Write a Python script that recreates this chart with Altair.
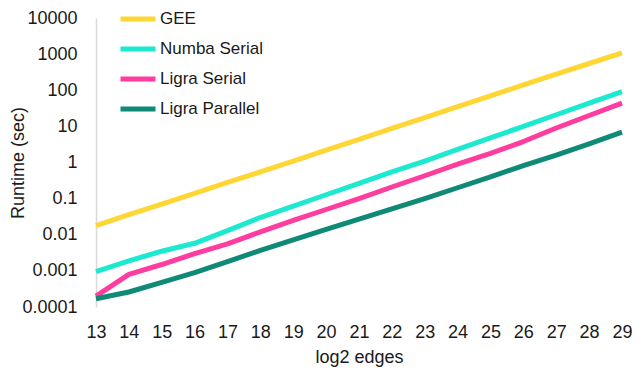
import altair as alt
import pandas as pd

edges = list(range(13, 30))
gee = [0.018, 0.036, 0.07, 0.14, 0.28, 0.55, 1.1, 2.2, 4.4, 8.8, 17.5, 35, 70, 140, 280, 550, 1080]
numba_serial = [0.00095, 0.0019, 0.0035, 0.0058, 0.013, 0.03, 0.062, 0.128, 0.265, 0.55, 1.1, 2.3, 4.8, 10, 21, 44, 91]
ligra_serial = [0.0002, 0.0008, 0.0015, 0.003, 0.0056, 0.012, 0.025, 0.05, 0.1, 0.21, 0.43, 0.9, 1.8, 3.8, 9, 20, 44]
ligra_parallel = [0.00017, 0.00026, 0.00048, 0.00089, 0.0018, 0.0037, 0.0072, 0.014, 0.027, 0.052, 0.1, 0.2, 0.4, 0.82, 1.6, 3.3, 6.9]

series_names = ["GEE", "Numba Serial", "Ligra Serial", "Ligra Parallel"]
series_colors = ["#FFD633", "#1DE9D0", "#FF3D9E", "#0E8A76"]
y_ticks = [0.0001, 0.001, 0.01, 0.1, 1, 10, 100, 1000, 10000]

rows = []
for name, vals in zip(series_names, [gee, numba_serial, ligra_serial, ligra_parallel]):
    for e, v in zip(edges, vals):
        rows.append({"edges": e, "runtime": v, "series": name})
df = pd.DataFrame(rows)

FONT = "Liberation Sans"
TXT = "#1a1a1a"

chart = alt.Chart(df).mark_line(strokeWidth=5, strokeJoin="round").encode(
    x=alt.X("edges:Q", title="log2 edges",
            scale=alt.Scale(domain=[13, 29], nice=False, zero=False),
            axis=alt.Axis(values=edges, format="d", domain=False, ticks=False, grid=False,
                          labelFont=FONT, labelFontSize=18, labelColor=TXT, labelPadding=16,
                          titleFont=FONT, titleFontSize=18, titleFontWeight="normal",
                          titleColor=TXT, titlePadding=7, labelFlush=False)),
    y=alt.Y("runtime:Q", title="Runtime (sec)",
            scale=alt.Scale(type="log", domain=[0.0001, 10000], nice=False),
            axis=alt.Axis(values=y_ticks, format="~g", domain=True, domainColor="#d9d9d9",
                          domainWidth=1.5, ticks=False, grid=False,
                          labelFont=FONT, labelFontSize=18, labelColor=TXT, labelPadding=19,
                          titleFont=FONT, titleFontSize=18, titleFontWeight="normal",
                          titleColor=TXT, titlePadding=-6)),
    color=alt.Color("series:N", sort=series_names,
                    scale=alt.Scale(domain=series_names, range=series_colors),
                    legend=alt.Legend(title=None, orient="none", legendX=22, legendY=-19,
                                      symbolType="stroke", symbolStrokeWidth=5, symbolSize=1225,
                                      labelFont=FONT, labelFontSize=17, labelColor=TXT,
                                      labelOffset=2, rowPadding=-3)),
    order=alt.Order("edges:Q"),
).properties(
    width=526, height=289,
    autosize=alt.AutoSizeParams(type="none"),
    padding={"left": 88, "top": 10, "right": 10, "bottom": 64},
).configure_view(stroke=None)

chart.save("out.html", embed_options={"renderer": "svg", "actions": False})
